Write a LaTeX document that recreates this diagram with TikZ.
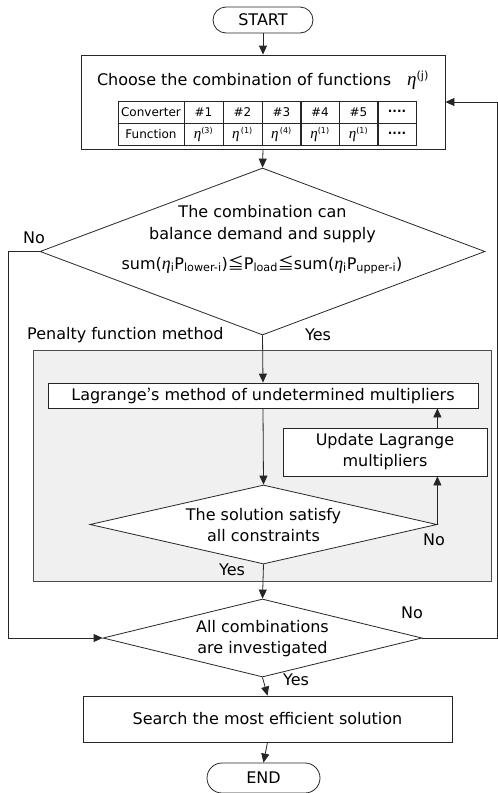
\documentclass[tikz,border=0pt]{standalone}
\usepackage{fontspec}
\setmainfont{DejaVu Sans}
\newfontfamily\cjkfont{Noto Sans CJK JP}
\newfontfamily\etafont{Liberation Serif}
\usepackage{tikz}
\usetikzlibrary{arrows.meta,positioning,calc,shapes.geometric}
\usepackage{xcolor}

\newcommand{\eeta}{{\etafont\itshape η}}
\newcommand{\etafn}[1]{{\fontsize{15}{15}\selectfont\eeta}\textsuperscript{#1}}

\begin{document}
\begin{tikzpicture}[
    x=1pt, y=-1pt,
    font=\fontsize{16}{19}\selectfont,
    terminal/.style={
        rectangle, rounded corners=13pt, draw=black!85, fill=white,
        line width=0.8pt, minimum height=26pt, inner sep=0pt
    },
    process/.style={
        rectangle, draw=black!85, fill=white, line width=0.8pt,
        inner sep=0pt, align=center
    },
    decision/.style={
        diamond, draw=black!85, fill=white, line width=0.8pt,
        inner sep=0pt
    },
    cell/.style={
        rectangle, draw=black!85, line width=0.7pt, inner sep=0pt,
        minimum height=22pt, font=\fontsize{12}{14}\selectfont
    },
    flow/.style={-{Triangle[length=9pt,width=8pt]}, line width=0.8pt, black!85},
    lbl/.style={inner sep=0pt, align=center}
]
\useasboundingbox (0,0) rectangle (498,793);

% 枠
\node[process, fill=black!6, draw=black!70, minimum width=458pt, minimum height=231pt]
    (penalty) at (262,465.5) {};

% 端子
\node[terminal, minimum width=100pt] (start) at (263,20) {START};
\node[terminal, minimum width=113pt, minimum height=30pt, rounded corners=15pt]
    (stop) at (263.5,778) {END};

% 組合せ選択
\node[process, minimum width=364pt, minimum height=94pt] (choose) at (263,102) {};
\node[lbl] (choosetxt) at (263,80)
    {Choose the combination of functions\quad{\fontsize{19}{19}\selectfont\eeta}\textsuperscript{(j)}};

% 表
\node[cell, minimum width=66pt] (conv0) at (151,112.5) {Converter};
\node[cell, minimum width=66pt] (func0) at (151,134.5) {Function};
\foreach \i/\cx/\top/\bot in {1/203.5/\#1/{\etafn{(3)}},
                          2/242.5/\#2/{\etafn{\,(1)}},
                          3/281.5/\#3/{\etafn{\,(4)}},
                          4/320/\#4/{\etafn{(1)}},
                          5/358.5/\#5/{\etafn{(1)}},
                          6/397/{\bfseries····}/{\bfseries····}} {
    \node[cell, minimum width=39pt] (conv\i) at (\cx,112.5) {\top};
    \node[cell, minimum width=39pt] (func\i) at (\cx,134.5) {\bot};
}

% 判定1
\node[decision, minimum width=445pt, minimum height=167pt] (q1) at (262.5,251.5) {};
\node[lbl] (q1txt) at (262.5,224) {The combination can\\[3pt]balance demand and supply};
\node[lbl] (q1sum) at (262,265)
    {sum({\fontsize{18}{18}\selectfont\eeta}\textsubscript{i}P\textsubscript{lower-i}){\cjkfont ≦}P\textsubscript{load}{\cjkfont ≦}sum({\fontsize{18}{18}\selectfont\eeta}\textsubscript{i}P\textsubscript{upper-i})};

% ペナルティ関数法
\node[lbl, anchor=west] (pentxt) at (27,335) {Penalty function method};
\node[process, minimum width=430pt, minimum height=25pt] (lagrange) at (263,395.5)
    {Lagrange{\cjkfont ’}s method of undetermined multipliers};
\node[process, minimum width=204pt, minimum height=48pt] (update) at (385,452)
    {Update Lagrange\\[2pt]multipliers};
\node[decision, minimum width=347pt, minimum height=79pt] (q2) at (263.5,524.5) {};
\node[lbl] (q2txt) at (263.5,525) {The solution satisfy\\[2pt]all constraints};

% 判定3
\node[decision, minimum width=319pt, minimum height=78pt] (q3) at (262.5,638) {};
\node[lbl] (q3txt) at (262.5,638.5) {All combinations\\[2pt]are investigated};
\node[process, minimum width=369pt, minimum height=46pt] (search) at (267.5,719)
    {Search the most efficient solution};

% 矢印
\draw[flow] (start) -- (choose);
\draw[flow] (choose.south) -- (q1.north);
\draw[flow] (q1.south) -- (lagrange.north);
\draw[flow] (lagrange.south) -- (q2.north);
\draw[flow] (q2.east) -- (q2.east |- update.south);
\draw[flow] (q2.east |- update.north) -- (q2.east |- lagrange.south);
\draw[flow] (q2.south) -- (q3.north);
\draw[flow] (q3.south) -- (search.north);
\draw[flow] (search.south) -- (stop.north);
\draw[flow] (q1.west) -- ++(-31,0) |- (q3.west);
\draw[flow] (q3.east) -- ++(75,0) |- (choose.east);

% Yes / No
\node[lbl] (q1no) at (34,238) {No};
\node[lbl] (q1yes) at (318,335) {Yes};
\node[lbl] (q2no) at (434,540) {No};
\node[lbl] (q2yes) at (232,570) {Yes};
\node[lbl] (q3no) at (412,613) {No};
\node[lbl] (q3yes) at (296,680) {Yes};

\end{tikzpicture}
\end{document}
